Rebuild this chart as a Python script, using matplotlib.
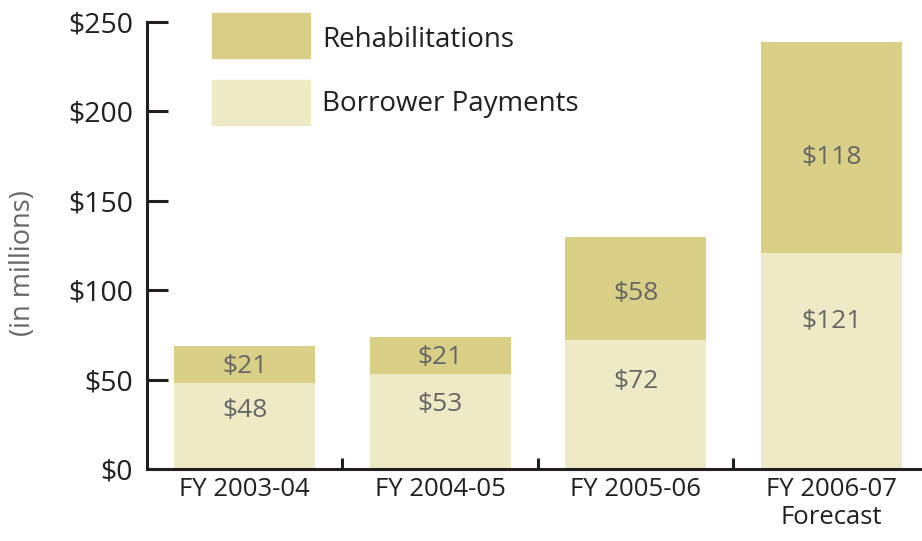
import matplotlib.pyplot as plt
import numpy as np

plt.rcParams['font.family'] = ['Open Sans', 'DejaVu Sans']

categories = ['FY 2003-04', 'FY 2004-05', 'FY 2005-06', 'FY 2006-07\nForecast']
borrower = [48, 53, 72, 121]
rehab = [21, 21, 58, 118]
yticks = [0, 50, 100, 150, 200, 250]

dark = '#D9CF87'
light = '#EEEAC6'
axis_col = '#231F20'
label_col = '#666666'

fig = plt.figure(figsize=(9.22, 5.41), dpi=100)
ax = fig.add_axes([0.1594, 0.1331, 0.8482, 0.8262])

x = np.arange(len(categories))
ax.bar(x, borrower, width=0.72, color=light, edgecolor='none', zorder=1)
ax.bar(x, rehab, width=0.72, bottom=borrower, color=dark, edgecolor='none', zorder=1)

# value labels
for i in range(len(x)):
    ax.text(x[i], borrower[i] * 0.68, '$%d' % borrower[i], ha='center', va='center',
            fontsize=19, color=label_col)
    ax.text(x[i], borrower[i] + rehab[i] * 0.45, '$%d' % rehab[i], ha='center', va='center',
            fontsize=19, color=label_col)

ax.set_xlim(-0.5, 3.5)
ax.set_ylim(0, 250)

for s in ['top', 'right']:
    ax.spines[s].set_visible(False)
for s in ['left', 'bottom']:
    ax.spines[s].set_linewidth(2.2)
    ax.spines[s].set_color(axis_col)
    ax.spines[s].set_zorder(3)

ax.set_yticks(yticks)
ax.set_yticklabels(['$%d' % v for v in yticks])
ax.tick_params(axis='y', direction='in', length=15, width=2.2, color=axis_col,
               labelsize=20.5, labelcolor=axis_col, pad=10)

# category ticks sit between bars, labels centred under bars
ax.set_xticks(x[:-1] + 0.5)
ax.set_xticklabels([])
ax.tick_params(axis='x', which='major', direction='in', length=8, width=2.2, color=axis_col)
ax.set_xticks(x, minor=True)
ax.set_xticklabels(categories, minor=True, linespacing=1.15)
ax.tick_params(axis='x', which='minor', length=0, labelsize=18.5, labelcolor=axis_col, pad=6)

ax.set_ylabel('(in millions)', fontsize=19.5, color=label_col)
ax.yaxis.set_label_coords(-0.14, 0.46)

# legend drawn as patches with text
fig.patches.append(plt.Rectangle((212 / 922, 1 - 58 / 541), 98 / 922, 45 / 541,
                                 transform=fig.transFigure, color=dark))
fig.patches.append(plt.Rectangle((212 / 922, 1 - 125 / 541), 98 / 922, 45 / 541,
                                 transform=fig.transFigure, color=light))
fig.text(322 / 922, 1 - 40 / 541, 'Rehabilitations', fontsize=20, color=axis_col, va='center')
fig.text(322 / 922, 1 - 104 / 541, 'Borrower Payments', fontsize=20, color=axis_col, va='center')

fig.savefig('out.png', dpi=100)
